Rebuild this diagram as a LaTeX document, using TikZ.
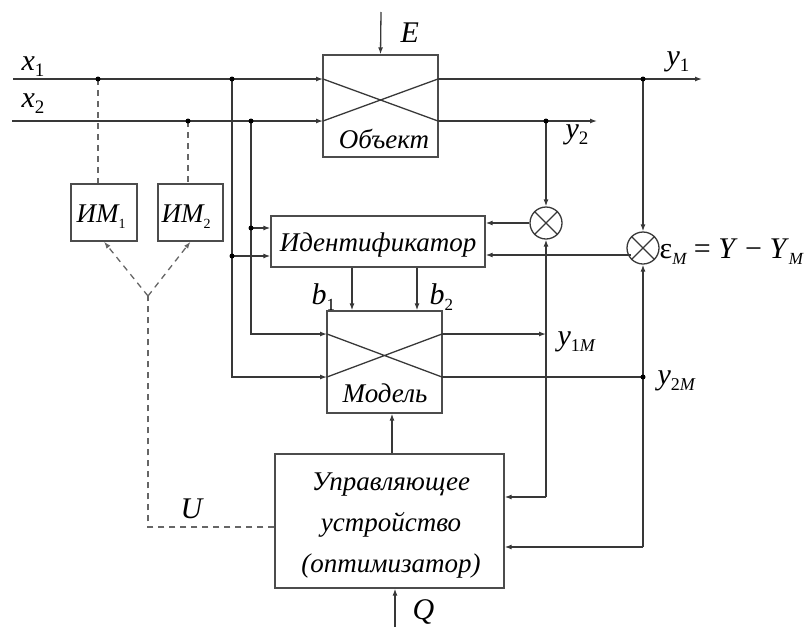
\documentclass[tikz,border=0pt]{standalone}
\usepackage{fontspec}
\usepackage{graphicx}
\setmainfont{Liberation Serif}
\usetikzlibrary{arrows.meta}
\newcommand{\lsub}[3]{#1\raisebox{-0.5ex}{\fontsize{#3}{#3}\selectfont\upshape #2}}
\begin{document}
\begin{tikzpicture}[x=1pt,y=-1pt,
  line width=1.3pt,
  every node/.style={font=\fontsize{27}{32}\selectfont\itshape},
  wire/.style={draw=black!78},
  arr/.style={draw=black!78,-{Latex[length=7pt,width=5pt]}},
  dsh/.style={draw=black!60,dash pattern=on 6pt off 5pt},
  darr/.style={dsh,-{Latex[length=7pt,width=5pt]}},
  box/.style={draw=black!70,line width=1.3pt,inner sep=0pt},
  sumc/.style={draw=black!78,circle,minimum size=32pt,inner sep=0pt},
  dot/.style={circle,fill=black,inner sep=0pt,minimum size=5pt},
  lbl/.style={inner sep=0pt,anchor=base west,font=\fontsize{30}{34}\selectfont\itshape},
  txt/.style={inner sep=0pt,anchor=base}]
\useasboundingbox (0,0) rectangle (808,627);

% boxes
\node[box,minimum width=115pt,minimum height=102pt] (obj) at (380.5,106) {};
\node[box,minimum width=214pt,minimum height=51pt] (ident) at (378,241.5) {};
\node[box,minimum width=115pt,minimum height=102pt] (model) at (384.5,362) {};
\node[box,minimum width=229pt,minimum height=134pt] (ctrl) at (389.5,521) {};
\node[box,minimum width=66pt,minimum height=57pt] (im1) at (104,212.5) {};
\node[box,minimum width=65pt,minimum height=57pt] (im2) at (190.5,212.5) {};
\node[sumc] (s1) at (546,223) {};
\node[sumc] (s2) at (643,248) {};
\draw[wire] (s1.north west) -- (s1.south east) (s1.north east) -- (s1.south west);
\draw[wire] (s2.north west) -- (s2.south east) (s2.north east) -- (s2.south west);

% texts
\node[txt] (tobj) at (384,148) {Объект};
\node[txt] (tident) at (378,251) {Идентификатор};
\node[txt] (tmodel) at (385,402) {Модель};
\node[txt] (tctrl1) at (391,490) {Управляющее};
\node[txt] (tctrl2) at (391,531) {устройство};
\node[txt] (tctrl3) at (391,572) {(оптимизатор)};
\node[lbl,font=\fontsize{27}{32}\selectfont\itshape] (tim1) at (76,222) {\lsub{ИМ}{1}{14}};
\node[lbl,font=\fontsize{27}{32}\selectfont\itshape] (tim2) at (161,222) {\lsub{ИМ}{2}{14}};
\node[lbl] (tx1) at (21,70) {\lsub{x}{1}{19}};
\node[lbl] (tx2) at (21,107) {\lsub{x}{2}{19}};
\node[lbl] (tE) at (400,42) {E};
\node[lbl] (ty1) at (666,65) {\lsub{y}{1}{19}};
\node[lbl] (ty2) at (565,138) {\lsub{y}{2}{19}};
\node[lbl] (tb1) at (311,304) {\lsub{b}{1}{17}};
\node[lbl] (tb2) at (429,304) {\lsub{b}{2}{17}};
\node[lbl] (ty1m) at (557,345) {\lsub{y}{1\itshape M}{18}};
\node[lbl] (ty2m) at (657,384) {\lsub{y}{2\itshape M}{18}};
\node[lbl] (teps) at (659,258) {\upshape ε\raisebox{-0.5ex}{\fontsize{17}{17}\selectfont\itshape M}\ = \textit{Y} − \textit{Y}\raisebox{-0.5ex}{\fontsize{17}{17}\selectfont\itshape M}};
\node[lbl] (tU) at (180,518) {U};
\node[lbl] (tQ) at (412,619) {Q};

% coordinates
\coordinate (x1s) at (13,79);
\coordinate (x2s) at (12,121);
\coordinate (d11) at (98,79);
\coordinate (d12) at (232,79);
\coordinate (d21) at (188,121);
\coordinate (d22) at (251,121);
\coordinate (oi1) at (323,79);
\coordinate (oi2) at (323,121);
\coordinate (oo1) at (438,79);
\coordinate (oo2) at (438,121);
\coordinate (y1e) at (702,79);
\coordinate (y2e) at (597,121);
\coordinate (dy1) at (643,79);
\coordinate (dy2) at (546,121);
\coordinate (mi1) at (327,334);
\coordinate (mi2) at (327,377);
\coordinate (mo1) at (442,334);
\coordinate (mo2) at (442,377);
\coordinate (dk1) at (251,228);
\coordinate (dk2) at (232,256);
\coordinate (dm2) at (643,377);
\coordinate (c1) at (546,497);
\coordinate (c2) at (643,547);
\coordinate (Etop) at (381,12);
\coordinate (Qbot) at (395,627);
\coordinate (yj) at (148,296);
\coordinate (uc) at (148,527);

% main lines
\draw[arr] (x1s) -- (oi1);
\draw[arr] (x2s) -- (oi2);
\draw[arr] (oo1) -- (y1e);
\draw[arr] (oo2) -- (y2e);
\draw[wire] (oi1) -- (oo2) (oi2) -- (oo1);
\draw[arr] (Etop) -- (obj.north);

% verticals from x1/x2 to identifier and model
\draw[wire] (d12) -- (dk2);
\draw[arr] (dk2) |- (mi2);
\draw[arr] (dk2) -- (ident.west |- dk2);
\draw[wire] (d22) -- (dk1);
\draw[arr] (dk1) |- (mi1);
\draw[arr] (dk1) -- (ident.west |- dk1);

% model
\draw[wire] (mi1) -- (mo2) (mi2) -- (mo1);
\draw[arr] (ident.south -| 352,0) -- (model.north -| 352,0);
\draw[arr] (ident.south -| 417,0) -- (model.north -| 417,0);
\draw[arr] (mo1) -- (546,334);
\draw[wire] (mo2) -- (dm2);

% sums
\draw[arr] (dy2) -- (s1.north);
\draw[arr] (dy1) -- (s2.north);
\draw[arr] (s1.west) -- (ident.east |- s1.west);
\draw[arr] (s2.south west |- 0,255) -- (ident.east |- 0,255);
\draw[arr] (c1) -- (s1.south);
\draw[arr] (c1) -- (ctrl.east |- c1);
\draw[arr] (c2) -- (s2.south);
\draw[arr] (c2) -- (ctrl.east |- c2);

% control
\draw[arr] (ctrl.north -| 392,0) -- (model.south -| 392,0);
\draw[arr] (Qbot) -- (ctrl.south -| Qbot);

% dashed
\draw[dsh] (d11) -- (im1.north -| d11);
\draw[dsh] (d21) -- (im2.north -| d21);
\draw[dsh] (ctrl.west |- uc) -- (uc) -- (yj);
\draw[darr] (yj) -- (im1.south);
\draw[darr] (yj) -- (im2.south);

% dots
\foreach \p in {d11,d12,d21,d22,dy1,dy2,dk1,dk2,dm2}
  \node[dot] at (\p) {};
\end{tikzpicture}
\end{document}
